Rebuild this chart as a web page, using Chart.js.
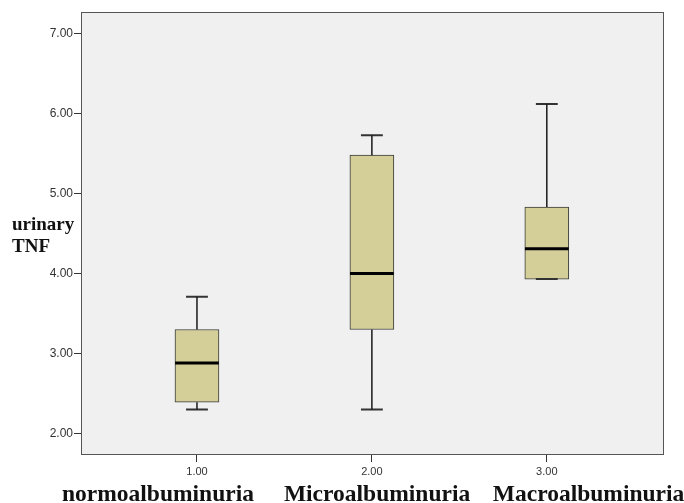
<!DOCTYPE html>
<html>
<head>
<meta charset="utf-8">
<script src="https://cdn.jsdelivr.net/npm/chart.js@4.4.0/dist/chart.umd.min.js"></script>
<style>
    html, body { margin: 0; padding: 0; background: #ffffff; }
    .chart { width: 684px; height: 503px; }
</style>
</head>
<body>
<div class="chart"><canvas id="boxplot"></canvas></div>
<script>
//groups
const groups = [1, 2, 3]
const group_names = ['normoalbuminuria', 'Microalbuminuria', 'Macroalbuminuria']

//urinary TNF box values
const whisker_low = [2.30, 2.30, 3.93]
const q1 = [2.39, 3.30, 3.93]
const median = [2.88, 4.00, 4.31]
const q3 = [3.30, 5.48, 4.83]
const whisker_high = [3.71, 5.73, 6.12]

//ticks
const y_ticks = [2, 3, 4, 5, 6, 7]
const x_ticks = [1, 2, 3]

const box_width = 0.25   // in x units
const cap_half = 0.0625

// build the line pieces from the values
whisker_points = []
cap_points = []
median_points = []
for (i in groups) {
    g = groups[i]
    whisker_points.push({x: g, y: whisker_low[i]}, {x: g, y: q1[i]}, {x: g, y: null})
    whisker_points.push({x: g, y: q3[i]}, {x: g, y: whisker_high[i]}, {x: g, y: null})
    cap_points.push({x: g - cap_half, y: whisker_low[i]}, {x: g + cap_half, y: whisker_low[i]}, {x: g, y: null})
    cap_points.push({x: g - cap_half, y: whisker_high[i]}, {x: g + cap_half, y: whisker_high[i]}, {x: g, y: null})
    median_points.push({x: g - box_width / 2, y: median[i]}, {x: g + box_width / 2, y: median[i]}, {x: g, y: null})
}

const plotFrame = {
    id: 'plotFrame',
    beforeDatasetsDraw(chart) {
        const {ctx, chartArea: a} = chart
        ctx.save()
        ctx.fillStyle = '#f0f0f0'
        ctx.fillRect(a.left, a.top, a.right - a.left, a.bottom - a.top)
        ctx.restore()
    },
    afterDraw(chart) {
        const {ctx, chartArea: a} = chart
        const xs = chart.scales.x
        ctx.save()
        ctx.strokeStyle = '#555555'
        ctx.lineWidth = 1
        ctx.strokeRect(a.left + 0.5, a.top + 0.5, a.right - a.left - 1, a.bottom - a.top - 1)

        // y title, horizontal, left of the ticks
        ctx.fillStyle = '#111111'
        ctx.font = 'bold 19px "Liberation Serif", "Times New Roman", serif'
        ctx.textAlign = 'left'
        ctx.textBaseline = 'alphabetic'
        mid = (a.top + a.bottom) / 2
        ctx.fillText('urinary', 12, mid - 4)
        ctx.fillText('TNF', 12, mid + 18)

        // group names under the ticks
        ctx.font = 'bold 23.5px "Liberation Serif", "Times New Roman", serif'
        offsets = [-135, -88, -54]
        for (i in group_names) {
            ctx.fillText(group_names[i], xs.getPixelForValue(groups[i]) + offsets[i], chart.height - 2)
        }
        ctx.restore()
    }
}

const ctx = document.getElementById('boxplot')

new Chart(ctx, {
    type: 'bar',
    data: {
        datasets: [
            {
                type: 'line',
                data: median_points,
                borderColor: '#000000',
                borderWidth: 3,
                pointRadius: 0,
                spanGaps: false,
                order: 1
            },
            {
                type: 'line',
                data: whisker_points,
                borderColor: '#1a1a1a',
                borderWidth: 1.5,
                pointRadius: 0,
                spanGaps: false,
                order: 2
            },
            {
                type: 'line',
                data: cap_points,
                borderColor: '#333333',
                borderWidth: 2,
                pointRadius: 0,
                spanGaps: false,
                order: 2
            },
            {
                type: 'bar',
                data: groups.map((g, i) => ({x: g, y: [q1[i], q3[i]]})),
                backgroundColor: '#d4cf98',
                borderColor: '#3a3a3a',
                borderWidth: 1,
                borderSkipped: false,
                barThickness: 44,
                order: 3
            }
        ]
    },
    options: {
        responsive: true,
        maintainAspectRatio: false,
        devicePixelRatio: 1,
        animation: false,
        layout: {
            padding: {top: 12, right: 20, left: 0, bottom: 0}
        },
        plugins: {
            legend: {display: false},
            tooltip: {enabled: false}
        },
        scales: {
            x: {
                type: 'linear',
                min: 0.337,
                max: 3.67,
                offset: false,
                afterBuildTicks: (scale) => { scale.ticks = x_ticks.map(v => ({value: v})) },
                afterFit: (scale) => { scale.height = 48 },
                ticks: {
                    callback: (v) => v.toFixed(2),
                    color: '#333333',
                    padding: 3,
                    font: {family: '"Liberation Sans", Arial, sans-serif', size: 11}
                },
                grid: {
                    offset: false,
                    drawOnChartArea: false,
                    tickLength: 7,
                    color: '#333333'
                },
                border: {display: false}
            },
            y: {
                type: 'linear',
                min: 1.73,
                max: 7.27,
                afterBuildTicks: (scale) => { scale.ticks = y_ticks.map(v => ({value: v})) },
                afterFit: (scale) => { scale.width = 81 },
                ticks: {
                    callback: (v) => v.toFixed(2),
                    color: '#333333',
                    padding: 1,
                    font: {family: '"Liberation Sans", Arial, sans-serif', size: 12}
                },
                grid: {
                    drawOnChartArea: false,
                    tickLength: 7,
                    color: '#333333'
                },
                border: {display: false}
            }
        }
    },
    plugins: [plotFrame]
})
</script>
</body>
</html>
